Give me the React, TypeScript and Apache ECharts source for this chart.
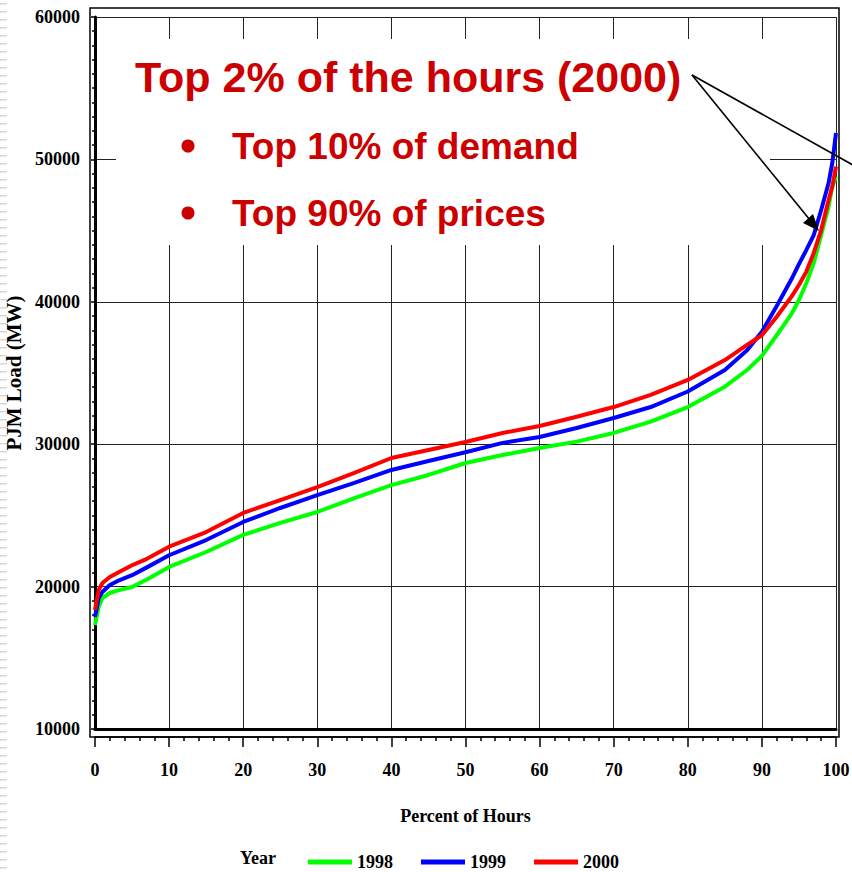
import React, { useEffect, useRef } from "react";
import * as echarts from "echarts";

// Percent of hours (x) shared by all three load duration curves
const percent = [0, 0.5, 1, 2, 3, 5, 7, 10, 15, 20, 25, 30, 35, 40, 45, 50, 55, 60, 65, 70, 75, 80, 85, 88, 90, 92, 94, 95, 96, 97, 98, 99, 99.5, 100];

// PJM load (MW)
const load1998 = [17300, 18570, 19200, 19550, 19720, 19970, 20500, 21380, 22430, 23630, 24470, 25240, 26220, 27130, 27840, 28680, 29240, 29730, 30180, 30790, 31580, 32610, 34040, 35210, 36200, 37650, 39150, 40130, 41320, 42720, 44690, 46680, 48080, 48800];
const load1999 = [17870, 19200, 19620, 20110, 20380, 20800, 21350, 22200, 23270, 24540, 25520, 26430, 27280, 28190, 28820, 29430, 30090, 30510, 31140, 31840, 32610, 33700, 35210, 36600, 37900, 39700, 41600, 42650, 43640, 44690, 46450, 48340, 49750, 51850];
const load2000 = [18360, 19760, 20250, 20670, 20950, 21500, 21950, 22800, 23830, 25170, 26080, 26990, 27980, 29030, 29590, 30160, 30790, 31280, 31930, 32610, 33460, 34510, 35910, 36970, 37650, 38950, 40360, 41180, 42120, 43430, 45040, 47150, 48100, 49500];

const seriesNames = ["1998", "1999", "2000"];
const seriesColors = ["#00FF00", "#0000FF", "#FF0000"];
const seriesValues = [load1998, load1999, load2000];

const headline = "Top 2% of the hours (2000)";
const bullets = ["Top 10% of demand", "Top 90% of prices"];

const serif = '"Liberation Serif", "Times New Roman", serif';
const sans = '"Liberation Sans", Arial, sans-serif';
const red = "#CC0000";

export default function App() {
  const ref = useRef<HTMLDivElement>(null);

  useEffect(() => {
    document.body.style.margin = "0";
    if (!ref.current) return;
    const chart = echarts.init(ref.current, undefined, { renderer: "svg" });

    const axisFont = { fontFamily: serif, fontWeight: "bold" as const, fontSize: 18, color: "#000" };

    const elements: any[] = [];
    // decorative dashed strip on the left edge
    for (let y = 3; y < 872; y += 8) {
      elements.push({ type: "rect", silent: true, z: 1, shape: { x: 0, y, width: 7, height: 1.5 }, style: { fill: "#d6d6d6" } });
    }
    // outer frame
    elements.push({ type: "rect", z: 5, silent: true, shape: { x: 90, y: 8, width: 749, height: 729 }, style: { fill: "none", stroke: "#000", lineWidth: 1.5 } });
    // annotation box
    elements.push({ type: "rect", z: 50, silent: true, shape: { x: 116, y: 39, width: 654, height: 206 }, style: { fill: "#ffffff" } });
    elements.push({ type: "text", z: 60, x: 135, y: 77, style: { text: headline, font: `bold 43px ${sans}`, fill: red, textAlign: "left", textVerticalAlign: "middle" } });
    bullets.forEach((b, i) => {
      const cy = 146 + i * 67;
      elements.push({ type: "circle", z: 60, shape: { cx: 188, cy, r: 6.5 }, style: { fill: red } });
      elements.push({ type: "text", z: 60, x: 232, y: cy, style: { text: b, font: `bold 37px ${sans}`, fill: red, textAlign: "left", textVerticalAlign: "middle" } });
    });
    // arrows
    elements.push({ type: "line", z: 60, shape: { x1: 692, y1: 75, x2: 810, y2: 220 }, style: { stroke: "#000", lineWidth: 1.6 } });
    elements.push({ type: "polygon", z: 60, shape: { points: [[819, 231], [803, 223], [813, 214]] }, style: { fill: "#000" } });
    elements.push({ type: "line", z: 60, shape: { x1: 692, y1: 75, x2: 860, y2: 169 }, style: { stroke: "#000", lineWidth: 1.6 } });
    // legend title
    elements.push({ type: "text", z: 60, x: 240, y: 858, style: { text: "Year", font: `bold 18px ${serif}`, fill: "#000", textAlign: "left", textVerticalAlign: "middle" } });

    chart.setOption({
      animation: false,
      backgroundColor: "#ffffff",
      grid: { left: 95, right: 16, top: 17, bottom: 143, containLabel: false, outerBoundsMode: "none" },
      legend: {
        data: seriesNames,
        left: 303,
        top: 848,
        icon: "rect",
        itemWidth: 44,
        itemHeight: 5,
        itemGap: 28,
        textStyle: { ...axisFont },
      },
      xAxis: [
        {
          type: "value",
          min: 0,
          max: 100,
          interval: 10,
          position: "bottom",
          offset: 8,
          axisLine: { show: true, lineStyle: { color: "#000", width: 1.5 } },
          axisTick: { show: true, length: 10, lineStyle: { color: "#000", width: 1.5 } },
          minorTick: { show: true, splitNumber: 5, length: 4, lineStyle: { color: "#000", width: 1.5 } },
          axisLabel: { margin: 24, ...axisFont, formatter: (v: number) => String(v) },
          splitLine: { show: true, lineStyle: { color: "#222", width: 1 } },
          name: "Percent of Hours",
          nameLocation: "middle",
          nameGap: 70,
          nameTextStyle: { ...axisFont },
        },
        {
          type: "value",
          min: 0,
          max: 100,
          position: "bottom",
          offset: 0,
          axisLine: { show: true, lineStyle: { color: "#000", width: 3 } },
          axisTick: { show: false },
          axisLabel: { show: false },
          splitLine: { show: false },
        },
      ],
      yAxis: [
        {
          type: "value",
          min: 10000,
          max: 60000,
          interval: 10000,
          position: "left",
          offset: 5,
          axisLine: { show: true, lineStyle: { color: "#000", width: 3 } },
          axisTick: { show: true, length: 4, lineStyle: { color: "#000", width: 1.5 } },
          minorTick: { show: true, splitNumber: 10, length: 3, lineStyle: { color: "#000", width: 1.5 } },
          axisLabel: { margin: 10, padding: [10, 0, 0, 0], ...axisFont, formatter: (v: number) => String(v) },
          splitLine: { show: true, lineStyle: { color: "#222", width: 1 } },
          name: "PJM Load (MW)",
          nameLocation: "middle",
          nameGap: 43,
          nameRotate: 90,
          nameTextStyle: { ...axisFont, fontSize: 21 },
        },
      ],
      series: seriesNames.map((name, k) => ({
        name,
        type: "line",
        xAxisIndex: 0,
        yAxisIndex: 0,
        data: percent.map((p, i) => [p, seriesValues[k][i]]),
        showSymbol: false,
        smooth: false,
        lineStyle: { color: seriesColors[k], width: 4, join: "round" },
        itemStyle: { color: seriesColors[k] },
        z: 3 + k,
      })),
      graphic: { elements },
    });

    return () => chart.dispose();
  }, []);

  return <div ref={ref} style={{ width: 852, height: 872 }} />;
}
